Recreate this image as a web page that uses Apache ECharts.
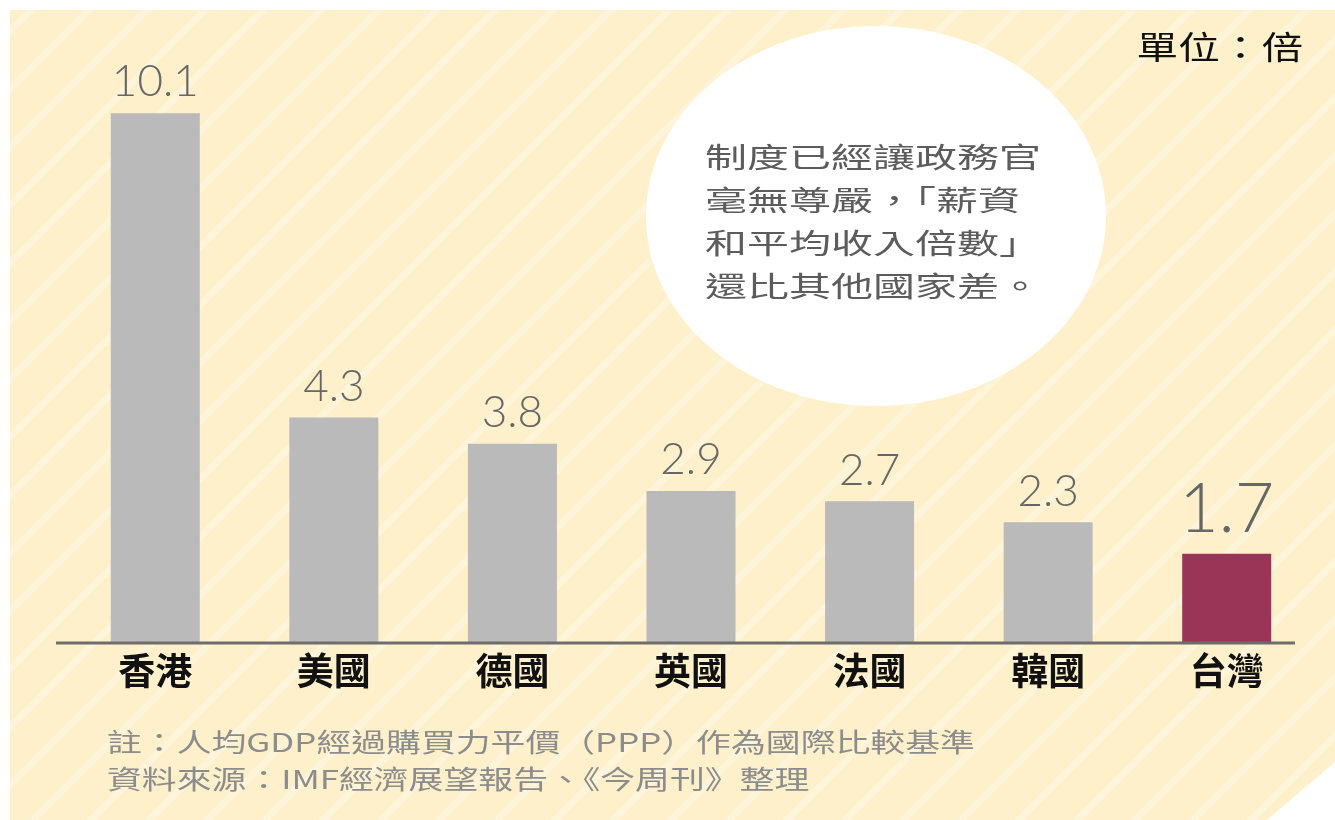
<!DOCTYPE html>
<html>
<head>
<meta charset="utf-8">
<script src="https://cdn.jsdelivr.net/npm/echarts@6/dist/echarts.min.js"></script>
<style>
  html, body { margin: 0; padding: 0; background: #fff; }
  #main { width: 1335px; height: 820px; }
</style>
</head>
<body>
<div id="main"></div>
<script>
// 資料
const countries = ['香港', '美國', '德國', '英國', '法國', '韓國', '台灣']
const ratios = [10.1, 4.3, 3.8, 2.9, 2.7, 2.3, 1.7]
const highlight = '台灣'

const bubbleText = '制度已經讓政務官\n毫無尊嚴，「薪資\n和平均收入倍數」\n還比其他國家差。'
const noteLines = [
  '註：人均GDP經過購買力平價（PPP）作為國際比較基準',
  '資料來源：IMF經濟展望報告、《今周刊》整理'
]

// 斜紋底圖
const stripeTile = (() => {
  const s = 58
  const c = document.createElement('canvas')
  c.width = s
  c.height = s
  const ctx = c.getContext('2d')
  ctx.fillStyle = '#fdf0cb'
  ctx.fillRect(0, 0, s, s)
  ctx.strokeStyle = '#fdf4da'
  ctx.lineWidth = 7
  ;[41 - s, 41, 41 + s].forEach(k => {
    ctx.beginPath()
    ctx.moveTo(k + 20, -20)
    ctx.lineTo(-20, k + 20)
    ctx.stroke()
  })
  return c
})()

const myChart = echarts.init(document.getElementById('main'))

const barData = countries.map((name, i) => {
  const isHl = name === highlight
  return {
    value: ratios[i],
    itemStyle: { color: isHl ? '#9b3558' : '#bababa' },
    label: isHl ? { fontSize: 68, distance: 10 } : {}
  }
})

const option = {
  animation: false,
  grid: { left: 66, right: 19, top: 66, bottom: 177 },
  xAxis: {
    type: 'category',
    data: countries,
    axisLine: { show: false },
    axisTick: { show: false },
    axisLabel: {
      margin: 9,
      fontSize: 37,
      fontWeight: 'bold',
      color: '#111',
      fontFamily: 'Noto Sans CJK TC'
    }
  },
  yAxis: {
    type: 'value',
    min: 0,
    max: 11,
    show: false,
    splitLine: { show: false }
  },
  series: [
    {
      type: 'bar',
      data: barData,
      barWidth: 89,
      label: {
        show: true,
        position: 'top',
        distance: 9,
        fontSize: 44,
        fontFamily: 'Lato',
        fontWeight: 300,
        color: '#666'
      }
    }
  ],
  graphic: [
    {
      type: 'polygon',
      z: -10,
      silent: true,
      shape: { points: [[10, 10], [1335, 10], [1335, 762], [1267, 820], [10, 820]] },
      style: { fill: { image: stripeTile, repeat: 'repeat' } }
    },
    {
      type: 'line',
      z: 10,
      silent: true,
      shape: { x1: 56, y1: 643, x2: 1295, y2: 643 },
      style: { stroke: '#6d6d6d', lineWidth: 3 }
    },
    {
      type: 'ellipse',
      z: 5,
      silent: true,
      shape: { cx: 876, cy: 216, rx: 230, ry: 190 },
      style: { fill: '#ffffff' }
    },
    {
      type: 'text',
      z: 6,
      silent: true,
      x: 705,
      y: 136,
      scaleX: 1.5,
      style: {
        text: bubbleText,
        fontSize: 28,
        lineHeight: 43,
        fill: '#5c5c5c',
        fontFamily: 'Noto Sans CJK TC'
      }
    },
    {
      type: 'text',
      z: 6,
      silent: true,
      x: 1303,
      y: 47,
      scaleX: 1.3,
      style: {
        text: '單位：倍',
        fontSize: 32,
        fill: '#111',
        align: 'right',
        verticalAlign: 'middle',
        fontFamily: 'Noto Sans CJK TC'
      }
    },
    {
      type: 'text',
      z: 6,
      silent: true,
      x: 107,
      y: 724,
      scaleX: 1.34,
      style: {
        text: noteLines.join('\n'),
        fontSize: 26,
        lineHeight: 37,
        fill: '#8c8c8c',
        fontFamily: 'Noto Sans CJK TC'
      }
    }
  ]
}

myChart.setOption(option)
window.addEventListener('resize', () => {
  myChart.resize()
})
</script>
</body>
</html>
